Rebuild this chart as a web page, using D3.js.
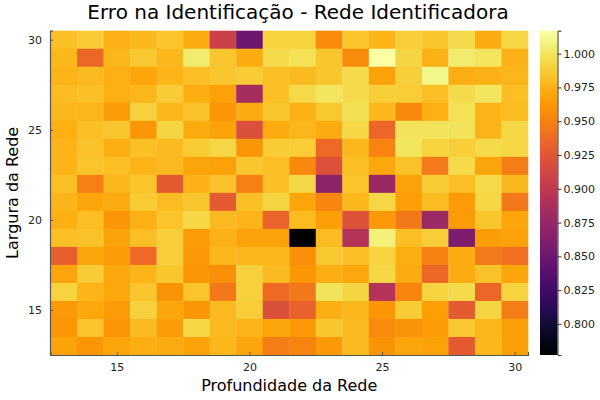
<!DOCTYPE html>
<html>
<head>
<meta charset="utf-8">
<script src="https://cdn.jsdelivr.net/npm/d3@7"></script>
<style>
  html, body { margin: 0; padding: 0; background: #fff; }
  svg { display: block; font-family: "DejaVu Sans", sans-serif; }
</style>
</head>
<body>
<svg id="chart" width="600" height="400"></svg>
<script>
// Depth (x, "Profundidade da Rede") and width (y, "Largura da Rede") values
const depths = d3.range(13, 31);            // 13 .. 30
const widths = d3.range(30, 12, -1);        // 30 .. 13 (top to bottom)
const xTicks = [15, 20, 25, 30];
const yTicks = [15, 20, 25, 30];
const cbTicks = [0.800, 0.825, 0.850, 0.875, 0.900, 0.925, 0.950, 0.975, 1.000];
const colorMin = 0.777;
const colorMax = 1.017;

// Identification error matrix, one row per width (30 at top -> 13 at bottom), columns depth 13..30
const errors = [
  [0.982,0.987,0.975,0.978,0.984,0.972,0.908,0.851,0.991,0.991,0.956,0.984,0.976,0.989,0.985,0.995,0.972,0.993],
  [0.978,0.936,0.977,0.986,0.978,1.003,0.985,0.972,0.995,0.998,0.985,0.956,1.017,0.992,0.975,1.003,1.000,0.975],
  [0.976,0.979,0.974,0.970,0.976,0.982,0.985,0.987,0.982,0.979,0.985,0.995,0.967,0.989,1.010,0.973,0.975,0.977],
  [0.980,0.982,0.974,0.977,0.987,0.973,0.967,0.884,0.982,0.994,1.000,0.995,0.989,0.988,0.981,0.995,1.000,0.981],
  [0.978,0.977,0.964,0.990,0.978,0.983,0.962,0.972,0.985,0.975,0.986,0.997,0.978,0.955,0.974,0.998,0.976,0.980],
  [0.974,0.982,0.985,0.961,0.992,0.972,0.968,0.920,0.972,0.977,0.972,0.993,0.935,0.999,0.999,0.999,0.976,0.993],
  [0.976,0.983,0.973,0.982,0.979,0.987,0.993,0.962,0.987,0.988,0.937,0.978,0.952,1.000,0.991,0.989,0.995,0.993],
  [0.976,0.984,0.981,0.976,0.979,0.969,0.967,0.985,0.982,0.955,0.921,0.981,0.971,0.983,0.946,0.995,0.970,0.948],
  [0.982,0.950,0.978,0.984,0.927,0.975,0.983,0.950,0.982,0.993,0.868,0.984,0.877,0.968,0.987,0.981,0.994,0.978],
  [0.976,0.970,0.972,0.987,0.980,0.985,0.927,0.982,0.992,0.970,0.953,0.978,0.993,0.966,0.980,0.964,0.993,0.945],
  [0.974,0.981,0.962,0.974,0.984,0.993,0.979,0.976,0.933,0.980,0.966,0.921,0.963,0.945,0.878,0.964,0.985,0.970],
  [0.982,0.983,0.968,0.981,0.989,0.964,0.975,0.968,0.968,0.777,0.980,0.893,1.006,0.981,0.988,0.859,0.965,0.967],
  [0.930,0.969,0.964,0.937,0.989,0.963,0.978,0.978,0.978,0.958,0.986,0.982,0.991,0.973,0.951,0.972,0.946,0.941],
  [0.969,0.987,0.971,0.976,0.985,0.962,0.958,0.990,0.979,0.962,0.973,0.971,0.993,0.972,0.936,0.972,0.983,0.970],
  [0.991,0.976,0.971,0.985,0.960,0.984,0.945,0.990,0.938,0.945,0.999,0.992,0.893,0.953,0.991,0.995,0.935,0.991],
  [0.963,0.971,0.964,0.990,0.970,0.962,0.979,0.988,0.920,0.932,0.973,0.978,0.962,0.987,0.966,0.927,0.992,0.948],
  [0.962,0.984,0.962,0.979,0.965,0.993,0.979,0.976,0.970,0.963,0.985,0.979,0.956,0.960,0.964,0.986,0.977,0.966],
  [0.968,0.961,0.970,0.973,0.972,0.968,0.978,0.970,0.948,0.952,0.963,0.979,0.960,0.970,0.968,0.927,0.978,0.966]
];

const title = "Erro na Identificação - Rede Identificadora";
const xLabel = "Profundidade da Rede";
const yLabel = "Largura da Rede";

const svg = d3.select("#chart");
const plot = { left: 50.5, right: 528, top: 30.7, bottom: 355 };

const x = d3.scaleLinear().domain([12.5, 30.5]).range([plot.left, plot.right]);
const y = d3.scaleLinear().domain([12.5, 30.5]).range([plot.bottom, plot.top]);
const color = d3.scaleSequential(d3.interpolateInferno).domain([colorMin, colorMax]);

const cells = [];
widths.forEach((w, i) => depths.forEach((d, j) => cells.push({ d, w, v: errors[i][j] })));

svg.append("g").selectAll("rect").data(cells).join("rect")
  .attr("x", c => x(c.d - 0.5))
  .attr("y", c => y(c.w + 0.5))
  .attr("width", c => x(c.d + 0.5) - x(c.d - 0.5) + 0.3)
  .attr("height", c => y(c.w - 0.5) - y(c.w + 0.5) + 0.3)
  .attr("fill", c => color(c.v));

// Axes
const axisColor = "#555";
const xAxis = svg.append("g").attr("transform", `translate(0,${plot.bottom})`)
  .call(d3.axisBottom(x).tickValues(xTicks).tickSize(-3).tickPadding(8).tickFormat(d3.format("d")));
const yAxis = svg.append("g").attr("transform", `translate(${plot.left - 0.5},0)`)
  .call(d3.axisLeft(y).tickValues(yTicks).tickSize(-3).tickPadding(8).tickFormat(d3.format("d")));
[xAxis, yAxis].forEach(g => {
  g.select(".domain").attr("stroke", axisColor).attr("stroke-width", 1.2);
  g.selectAll(".tick line").attr("stroke", axisColor);
  g.selectAll(".tick text").attr("fill", "#222").style("font-size", "11px").style("font-family", "DejaVu Sans, sans-serif");
});

// Colorbar
const cb = { left: 540, right: 557.5, top: plot.top, bottom: plot.bottom };
const cy = d3.scaleLinear().domain([colorMin, colorMax]).range([cb.bottom, cb.top]);
const defs = svg.append("defs");
const grad = defs.append("linearGradient").attr("id", "cbgrad")
  .attr("x1", 0).attr("y1", 1).attr("x2", 0).attr("y2", 0);
d3.range(0, 1.0001, 0.02).forEach(t => {
  grad.append("stop").attr("offset", t).attr("stop-color", d3.interpolateInferno(t));
});
svg.append("rect").attr("x", cb.left).attr("y", cb.top)
  .attr("width", cb.right - cb.left).attr("height", cb.bottom - cb.top)
  .attr("fill", "url(#cbgrad)");
const cbAxis = svg.append("g").attr("transform", `translate(${cb.right},0)`)
  .call(d3.axisRight(cy).tickValues(cbTicks).tickSize(4).tickPadding(2).tickFormat(d3.format(".3f")));
cbAxis.select(".domain").attr("stroke", "#333").attr("stroke-width", 1);
cbAxis.selectAll(".tick line").attr("stroke", "#333");
cbAxis.selectAll(".tick text").attr("fill", "#222").style("font-size", "11px").style("font-family", "DejaVu Sans, sans-serif");

// Titles
svg.append("text").attr("x", 298).attr("y", 19).attr("text-anchor", "middle")
  .style("font-size", "20px").attr("fill", "#000").text(title);
svg.append("text").attr("x", (plot.left + plot.right) / 2).attr("y", 391).attr("text-anchor", "middle")
  .style("font-size", "16px").attr("fill", "#000").text(xLabel);
svg.append("text").attr("transform", `translate(18,${(plot.top + plot.bottom) / 2}) rotate(-90)`)
  .attr("text-anchor", "middle").style("font-size", "16px").attr("fill", "#000").text(yLabel);
</script>
</body>
</html>
